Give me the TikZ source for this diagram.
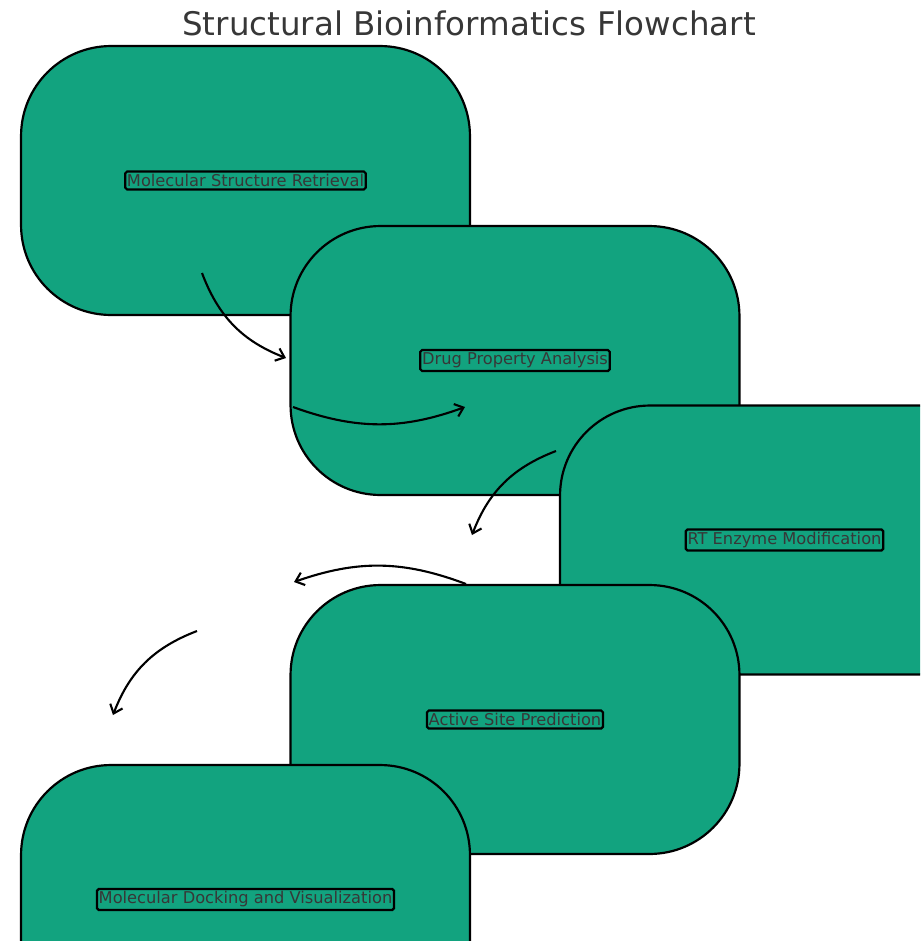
\documentclass[tikz,border=0pt]{standalone}
\usepackage{fontspec}
\setmainfont{DejaVu Sans}
\usepackage{tikz}
\usetikzlibrary{arrows.meta}
\definecolor{boxgreen}{RGB}{18,163,127}
\definecolor{txtgray}{RGB}{55,55,55}

\begin{document}
\begin{tikzpicture}[x=0.02cm,y=-0.02cm,
  stagebox/.style={draw=black,line width=1.25pt,fill=boxgreen,rounded corners=1.8cm,minimum width=8.98cm,minimum height=5.38cm,inner sep=0pt},
  tagbox/.style={draw=black,line width=1.25pt,rounded corners=1pt,inner xsep=1pt,inner ysep=1.5pt,text=txtgray,font=\fontsize{9.25}{10}\selectfont},
  flow/.style={line width=1.2pt,-{Straight Barb[length=4.5pt,width=7.5pt]}}]
\useasboundingbox (0,0) rectangle (923,941);
\node[text=txtgray,font=\fontsize{18.5}{21}\selectfont] (title) at (469,23) {Structural Bioinformatics Flowchart};
\begin{scope}
\clip (0,0) rectangle (920,941);
\node[stagebox] (retr) at (245.5,180.5) {};
\node[tagbox] (retrtag) at (retr) {Molecular Structure Retrieval};
\coordinate (a1s) at (202,273);
\coordinate (a1e) at (286,358);
\draw[flow] (a1s) to[bend right=24] (a1e);
\node[stagebox] (drug) at (515,360.5) {};
\node[tagbox] (drugtag) at (drug) {Drug Property Analysis};
\coordinate (a2s) at (293,407);
\coordinate (a2e) at (465,407);
\draw[flow] (a2s) to[bend right=20] (a2e);
\coordinate (a3s) at (556,451);
\coordinate (a3e) at (472,535);
\draw[flow] (a3s) to[bend right=24] (a3e);
\node[stagebox] (rtenz) at (784.5,540) {};
\node[tagbox] (rtenztag) at (rtenz) {RT Enzyme Modification};
\coordinate (a4s) at (466,584);
\coordinate (a4e) at (294,582);
\draw[flow] (a4s) to[bend right=20] (a4e);
\coordinate (a5s) at (197,631);
\coordinate (a5e) at (113,715);
\draw[flow] (a5s) to[bend right=24] (a5e);
\node[stagebox] (site) at (515,719.5) {};
\node[tagbox] (sitetag) at (site) {Active Site Prediction};
\node[stagebox] (dock) at (245.5,899.5) {};
\node[tagbox] (docktag) at (dock) {Molecular Docking and Visualization};
\end{scope}
\end{tikzpicture}
\end{document}
